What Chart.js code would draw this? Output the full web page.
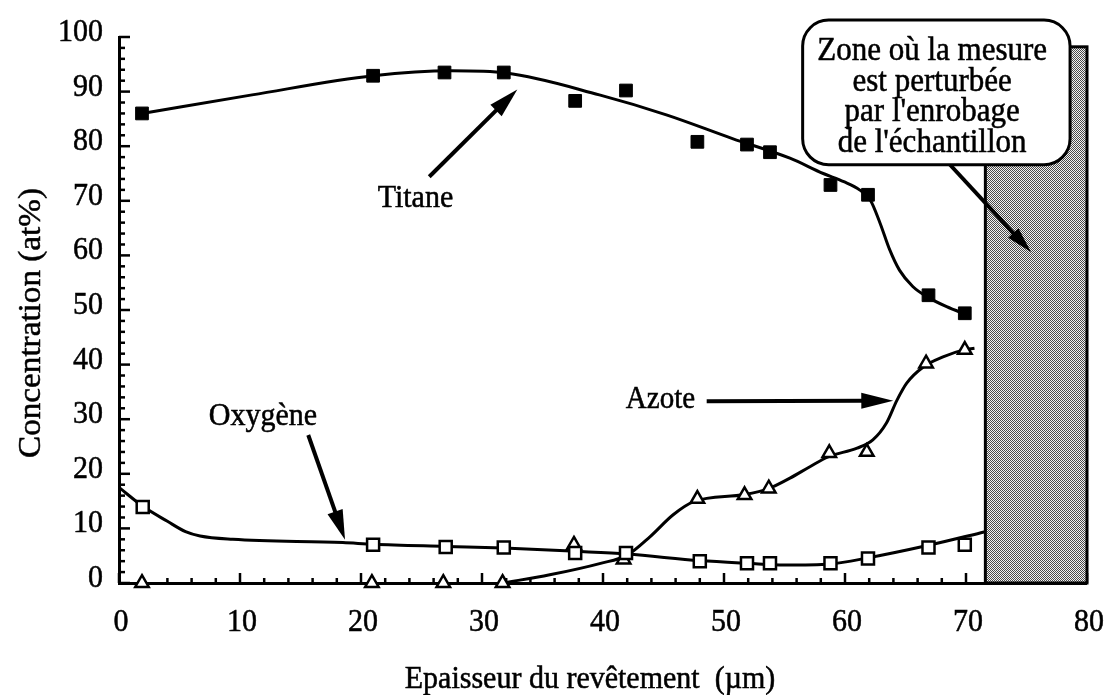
<!DOCTYPE html>
<html>
<head>
<meta charset="utf-8">
<script src="https://cdn.jsdelivr.net/npm/chart.js@4.4.1/dist/chart.umd.min.js"></script>
<style>
  html, body { margin: 0; padding: 0; background: #fff; }
  #wrap { width: 1108px; height: 695px; position: relative; }
</style>
</head>
<body>
<div id="wrap"><canvas id="profil"></canvas></div>
<script>
// Composition (at%) measured across the coating thickness (µm)
const depthTitane = [1.9, 21.0, 26.9, 31.8, 37.7, 41.9, 47.8, 51.9, 53.8, 58.8, 61.9, 66.9, 69.9];
const titane      = [86.0, 92.9, 93.5, 93.5, 88.3, 90.2, 80.8, 80.3, 78.9, 72.9, 71.1, 52.7, 49.4];

const depthOxygene = [1.96, 21.0, 27.0, 31.8, 37.7, 41.9, 48.0, 51.9, 53.8, 58.8, 61.9, 66.9, 69.9];
const oxygene      = [13.9, 7.0, 6.6, 6.5, 5.5, 5.5, 4.0, 3.6, 3.6, 3.6, 4.5, 6.5, 7.0];

const depthAzote = [1.9, 20.9, 26.8, 31.7, 37.6, 41.7, 47.8, 51.7, 53.7, 58.7, 61.8, 66.7, 69.9];
const azote      = [0, 0, 0, 0, 7.0, 4.3, 15.4, 16.1, 17.3, 23.8, 24.0, 40.2, 42.7];

// Hand-drawn trend curves through each profile
const trendTitaneX = [1.9, 11, 21, 27.5, 32, 39.7, 45.3, 50.7, 55.45, 58.2, 59.9, 61.2, 62.1, 62.9, 63.7, 64.5, 65.6, 66.8, 68.4, 70.1];
const trendTitaneY = [86.0, 89.4, 92.9, 93.8, 93.4, 89.4, 85.7, 81.4, 77.8, 75.0, 73.5, 72.0, 70.1, 65.9, 61.0, 57.3, 54.3, 52.4, 50.6, 49.1];

const trendOxygeneX = [0, 2, 4, 5.5, 6.7, 9.4, 18.5, 21, 27, 31.8, 37.7, 42, 48, 52, 55, 58.8, 61.9, 66.9, 71.6];
const trendOxygeneY = [17.5, 14.0, 11.3, 9.4, 8.6, 8.0, 7.4, 7.1, 6.7, 6.4, 5.8, 5.3, 4.1, 3.6, 3.3, 3.5, 4.6, 6.9, 9.4];

const trendAzoteX = [31.7, 35.6, 39.8, 42, 43.9, 45.8, 47.5, 51.7, 53.7, 55.45, 57.1, 58.6, 61.0, 62.3, 63.4, 64.3, 65.1, 66.5, 68.1, 69.8, 70.7];
const trendAzoteY = [0, 1.5, 3.6, 5.1, 8.5, 12.5, 14.9, 16.2, 17.3, 19.2, 21.3, 23.1, 24.7, 26.2, 29.2, 33.5, 36.6, 39.6, 41.4, 42.7, 43.0];

// Axis ranges and tick steps
const xRange = [0, 80];
const yRange = [0, 100];
const majorStep = 10;
const minorStep = 2;

// Zone disturbed by the mounting resin (µm, at%)
const zoneFrom = 71.6;
const zoneTo = 80;
const zoneTop = 98.2;

const calloutLines = ["Zone où la mesure", "est perturbée", "par l'enrobage", "de l'échantillon"];
const xTitle = 'Epaisseur du revêtement  (µm)';
const yTitle = 'Concentration (at%)';

const SERIF = "'Liberation Serif', 'Times New Roman', serif";
const STRETCH = 1.07; // glyphs are a little taller than wide

const pts = (xs, ys) => xs.map((x, i) => ({ x, y: ys[i] }));

function stipple(ctx) {
  const t = document.createElement('canvas');
  t.width = 4; t.height = 4;
  const g = t.getContext('2d');
  g.fillStyle = '#f2f2f2';
  g.fillRect(0, 0, 4, 4);
  g.fillStyle = '#4a4a4a';
  for (let y = 0; y < 4; y++) for (let x = 0; x < 4; x++) if ((x + y) % 2 === 0) g.fillRect(x, y, 1, 1);
  return ctx.createPattern(t, 'repeat');
}

// Text with a slight vertical stretch and a thin outline for heavier strokes
function label(ctx, text, x, y, size, align, rotate) {
  ctx.save();
  ctx.translate(x, y);
  if (rotate) { ctx.rotate(-Math.PI / 2); ctx.scale(STRETCH, 1); }
  else ctx.scale(1, STRETCH);
  ctx.font = size + 'px ' + SERIF;
  ctx.textAlign = align;
  ctx.textBaseline = 'alphabetic';
  ctx.fillStyle = '#000';
  ctx.strokeStyle = '#000';
  ctx.lineWidth = 0.5;
  ctx.fillText(text, 0, 0);
  ctx.strokeText(text, 0, 0);
  ctx.restore();
}

function arrow(ctx, x1, y1, x2, y2, head, half) {
  const a = Math.atan2(y2 - y1, x2 - x1);
  const bx = x2 - head * Math.cos(a), by = y2 - head * Math.sin(a);
  ctx.beginPath();
  ctx.moveTo(x1, y1);
  ctx.lineTo(bx + 2 * Math.cos(a), by + 2 * Math.sin(a));
  ctx.lineWidth = 4;
  ctx.lineCap = 'butt';
  ctx.stroke();
  ctx.beginPath();
  ctx.moveTo(x2, y2);
  ctx.lineTo(bx + half * Math.sin(a), by - half * Math.cos(a));
  ctx.lineTo(bx - half * Math.sin(a), by + half * Math.cos(a));
  ctx.closePath();
  ctx.fill();
}

function roundBox(ctx, x0, y0, x1, y1, r) {
  ctx.beginPath();
  ctx.moveTo(x0 + r, y0);
  ctx.arcTo(x1, y0, x1, y1, r);
  ctx.arcTo(x1, y1, x0, y1, r);
  ctx.arcTo(x0, y1, x0, y0, r);
  ctx.arcTo(x0, y0, x1, y0, r);
  ctx.closePath();
}

// Inward ticks, tick labels and the shaded zone under the curves
const backdrop = {
  id: 'backdrop',
  beforeDatasetsDraw(chart) {
    const { ctx, scales: { x, y } } = chart;
    ctx.save();
    ctx.strokeStyle = '#000';
    ctx.lineWidth = 2.5;
    for (let v = xRange[0]; v <= xRange[1] + 1e-9; v += minorStep) {
      const p = x.getPixelForValue(v);
      const major = Math.round(v) % majorStep === 0;
      ctx.beginPath(); ctx.moveTo(p, y.bottom); ctx.lineTo(p, y.bottom - (major ? 10 : 5)); ctx.stroke();
      if (major) label(ctx, String(v), p + 2, y.bottom + 48, 30, 'center');
    }
    for (let v = yRange[0]; v <= yRange[1] + 1e-9; v += minorStep) {
      const p = y.getPixelForValue(v);
      const major = Math.round(v) % majorStep === 0;
      ctx.beginPath(); ctx.moveTo(x.left, p); ctx.lineTo(x.left + (major ? 11 : 6), p); ctx.stroke();
      if (major) label(ctx, String(v), x.left - 16, p + 4, 30, 'right');
    }
    // disturbed zone
    const zx0 = x.getPixelForValue(zoneFrom), zx1 = x.getPixelForValue(zoneTo);
    const zy0 = y.getPixelForValue(zoneTop), zy1 = y.getPixelForValue(0);
    ctx.fillStyle = stipple(ctx);
    ctx.fillRect(zx0, zy0, zx1 - zx0, zy1 - zy0);
    ctx.lineWidth = 3;
    ctx.strokeRect(zx0, zy0, zx1 - zx0, zy1 - zy0);
    ctx.restore();
  },
  afterDatasetsDraw(chart) {
    const { ctx, scales: { x, y }, chartArea: ca } = chart;
    const X = v => x.getPixelForValue(v), Y = v => y.getPixelForValue(v);
    ctx.save();
    ctx.fillStyle = '#000';
    ctx.strokeStyle = '#000';

    // pointer arrows
    arrow(ctx, X(25.64), Y(74.4), X(32.92), Y(90.4), 30, 8);
    arrow(ctx, X(15.64), Y(27.1), X(18.68), Y(7.9), 30, 8);
    arrow(ctx, X(48.57), Y(33.3), X(63.99), Y(33.4), 32, 8);
    arrow(ctx, X(68.68), Y(76.6), X(75.37), Y(60.6), 26, 7);

    // series names
    label(ctx, 'Titane', X(24.5), Y(68.9), 30, 'center');
    label(ctx, 'Oxygène', X(11.9), Y(28.9), 30, 'center');
    label(ctx, 'Azote', X(44.75), Y(32.05), 29, 'center');

    // callout box
    roundBox(ctx, X(56.5), Y(103.1), X(78.6), Y(76.6), 26);
    ctx.fillStyle = '#fff';
    ctx.fill();
    ctx.lineWidth = 3;
    ctx.stroke();
    const cx = X(67.2);
    calloutLines.forEach((t, i) => label(ctx, t, cx, ca.top + 23 + i * 30.7, 31, 'center'));

    // axis titles
    label(ctx, xTitle, (ca.left + ca.right) / 2 - 13, ca.bottom + 105, 30, 'center');
    label(ctx, yTitle, 40, (ca.top + ca.bottom) / 2 + 13, 31, 'center', true);
    ctx.restore();
  }
};

const trend = (xs, ys) => ({
  data: pts(xs, ys),
  borderColor: '#000',
  borderWidth: 3,
  pointRadius: 0,
  fill: false,
  cubicInterpolationMode: 'monotone'
});

const markers = (xs, ys, style, radius, filled) => ({
  data: pts(xs, ys),
  showLine: false,
  pointStyle: style,
  pointRadius: radius,
  pointBorderWidth: filled ? 1 : 2.5,
  pointBackgroundColor: filled ? '#000' : '#fff',
  pointBorderColor: '#000',
  clip: false
});

new Chart(document.getElementById('profil'), {
  type: 'line',
  data: {
    datasets: [
      markers(depthTitane, titane, 'rect', 9, true),
      markers(depthOxygene, oxygene, 'rect', 8.5, false),
      markers(depthAzote, azote, 'triangle', 7.8, false),
      trend(trendTitaneX, trendTitaneY),
      trend(trendOxygeneX, trendOxygeneY),
      trend(trendAzoteX, trendAzoteY)
    ]
  },
  options: {
    responsive: true,
    maintainAspectRatio: false,
    animation: false,
    events: [],
    layout: { padding: { top: 37, right: 21, left: 0, bottom: 0 } },
    plugins: { legend: { display: false }, tooltip: { enabled: false } },
    scales: {
      x: {
        type: 'linear',
        min: xRange[0], max: xRange[1],
        afterFit(s) { s.height = 112; },
        ticks: { display: false, stepSize: majorStep },
        grid: { drawOnChartArea: false, drawTicks: false, lineWidth: 0, color: '#000' },
        border: { color: '#000', width: 3 }
      },
      y: {
        min: yRange[0], max: yRange[1],
        afterFit(s) { s.width = 119; },
        ticks: { display: false, stepSize: majorStep },
        grid: { drawOnChartArea: false, drawTicks: false, lineWidth: 0, color: '#000' },
        border: { color: '#000', width: 3 }
      }
    }
  },
  plugins: [backdrop]
});
</script>
</body>
</html>
